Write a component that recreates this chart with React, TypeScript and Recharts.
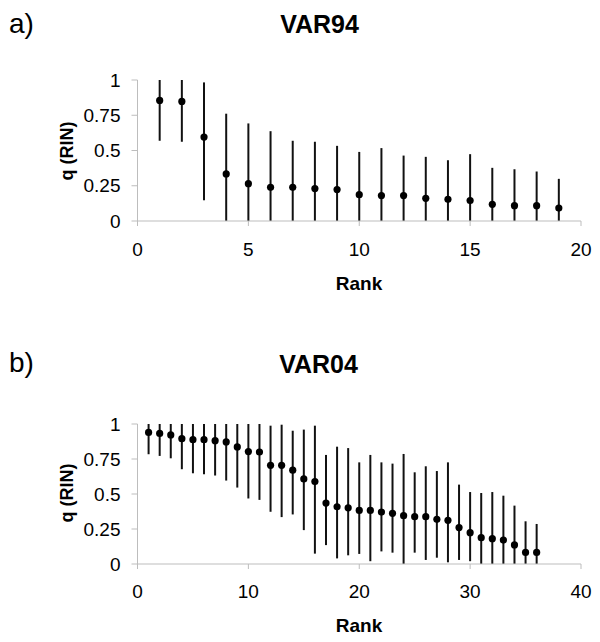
import React from 'react';
import { ScatterChart, Scatter, XAxis, YAxis, ErrorBar } from 'recharts';

// ---- Panel a) VAR94 ----
const rankA = [1, 2, 3, 4, 5, 6, 7, 8, 9, 10, 11, 12, 13, 14, 15, 16, 17, 18, 19];
const qA = [0.855, 0.848, 0.595, 0.334, 0.265, 0.239, 0.239, 0.23, 0.223, 0.187, 0.18, 0.18, 0.161, 0.154, 0.145, 0.118, 0.109, 0.109, 0.092];
const hiA = [1.0, 1.0, 0.983, 0.761, 0.692, 0.637, 0.569, 0.562, 0.533, 0.49, 0.517, 0.464, 0.455, 0.431, 0.474, 0.377, 0.367, 0.351, 0.299];
const loA = [0.569, 0.562, 0.147, 0, 0, 0, 0, 0, 0, 0, 0, 0, 0, 0, 0, 0, 0, 0, 0];
const xTicksA = [0, 5, 10, 15, 20];

// ---- Panel b) VAR04 ----
const rankB = [1, 2, 3, 4, 5, 6, 7, 8, 9, 10, 11, 12, 13, 14, 15, 16, 17, 18, 19, 20, 21, 22, 23, 24, 25, 26, 27, 28, 29, 30, 31, 32, 33, 34, 35, 36];
const qB = [0.94, 0.933, 0.922, 0.895, 0.888, 0.888, 0.881, 0.872, 0.836, 0.803, 0.8, 0.705, 0.705, 0.67, 0.608, 0.589, 0.435, 0.409, 0.401, 0.383, 0.383, 0.371, 0.362, 0.345, 0.338, 0.338, 0.319, 0.312, 0.26, 0.224, 0.188, 0.181, 0.171, 0.136, 0.083, 0.083];
const hiB = [1.0, 1.0, 1.0, 1.0, 1.0, 1.0, 1.0, 1.0, 1.0, 1.0, 1.0, 0.988, 0.995, 0.952, 0.96, 0.988, 0.779, 0.838, 0.828, 0.726, 0.779, 0.726, 0.717, 0.786, 0.655, 0.698, 0.664, 0.726, 0.567, 0.514, 0.507, 0.514, 0.488, 0.417, 0.305, 0.286];
const loB = [0.784, 0.772, 0.755, 0.677, 0.648, 0.641, 0.632, 0.596, 0.546, 0.468, 0.458, 0.373, 0.335, 0.354, 0.242, 0.074, 0.135, 0.04, 0.062, 0.072, 0.02, 0.09, 0.081, 0, 0.081, 0.029, 0.045, 0.012, 0.029, 0.02, 0, 0, 0, 0, 0, 0];
const xTicksB = [0, 10, 20, 30, 40];

const yTicks = [0, 0.25, 0.5, 0.75, 1];

const FONT = '"Liberation Sans", Arial, sans-serif';
const AXIS = '#bdbdbd';

function build(ranks: number[], q: number[], lo: number[], hi: number[]) {
  return ranks.map((r, i) => ({ x: r, y: q[i], err: [q[i] - lo[i], hi[i] - q[i]] }));
}

const dataA = build(rankA, qA, loA, hiA);
const dataB = build(rankB, qB, loB, hiB);

const Dot = (props: any) => <circle cx={props.cx} cy={props.cy} r={3.6} fill="#000" />;

function Panel({ data, xMax, xTicks, top, height, marginTop, marginBottom, tickMargin }: any) {
  return (
    <div style={{ position: 'absolute', left: 0, top, width: 600, height }}>
      <ScatterChart width={600} height={height} margin={{ top: marginTop, right: 19, bottom: marginBottom, left: 77.5 }}>
        <XAxis
          type="number"
          dataKey="x"
          domain={[0, xMax]}
          ticks={xTicks}
          allowDataOverflow
          height={40}
          tickSize={5}
          tickMargin={tickMargin}
          axisLine={{ stroke: AXIS }}
          tickLine={{ stroke: AXIS }}
          tick={{ fontSize: 19, fill: '#000', fontFamily: FONT }}
        />
        <YAxis
          type="number"
          dataKey="y"
          domain={[0, 1]}
          ticks={yTicks}
          allowDataOverflow
          width={60}
          tickSize={6}
          tickMargin={11}
          axisLine={{ stroke: AXIS }}
          tickLine={{ stroke: AXIS }}
          tick={{ fontSize: 19, fill: '#000', fontFamily: FONT }}
        />
        <Scatter data={data} fill="#000" shape={Dot} isAnimationActive={false}>
          <ErrorBar dataKey="err" direction="y" width={0} stroke="#111" strokeWidth={2} isAnimationActive={false} />
        </Scatter>
      </ScatterChart>
    </div>
  );
}

export default function App() {
  return (
    <div style={{ position: 'absolute', left: 0, top: 0, width: 600, height: 642, background: '#fff', fontFamily: FONT }}>
      <Panel data={dataA} xMax={20} xTicks={xTicksA} top={0} height={300} marginTop={80} marginBottom={39} tickMargin={17} />
      <Panel data={dataB} xMax={40} xTicks={xTicksB} top={300} height={342} marginTop={124} marginBottom={38} tickMargin={16} />
      <svg width={600} height={642} style={{ position: 'absolute', left: 0, top: 0, pointerEvents: 'none' }}>
        <g fontFamily={FONT} fill="#000">
          <text x={9} y={33} fontSize={28}>a)</text>
          <text x={319.5} y={33} fontSize={25} fontWeight="bold" textAnchor="middle">VAR94</text>
          <text transform="translate(72.5,151) rotate(-90)" fontSize={18} fontWeight="bold" textAnchor="middle">q (RIN)</text>
          <text x={359} y={290} fontSize={19} fontWeight="bold" textAnchor="middle">Rank</text>

          <text x={9} y={372} fontSize={28}>b)</text>
          <text x={318.5} y={373} fontSize={25} fontWeight="bold" textAnchor="middle">VAR04</text>
          <text transform="translate(72.5,493) rotate(-90)" fontSize={18} fontWeight="bold" textAnchor="middle">q (RIN)</text>
          <text x={359} y={632} fontSize={19} fontWeight="bold" textAnchor="middle">Rank</text>
        </g>
      </svg>
    </div>
  );
}
